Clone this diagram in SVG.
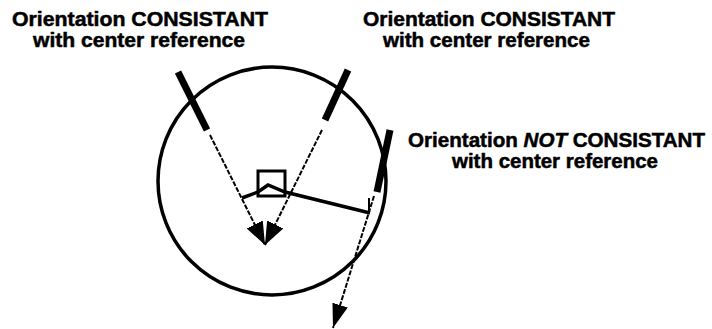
<svg xmlns="http://www.w3.org/2000/svg" width="712" height="329" viewBox="0 0 712 329">
<style>
  .lbl { font-family: "Liberation Sans", Arial, sans-serif; font-weight: bold; font-size: 20px; fill: #000; stroke: #000; stroke-width: 0.5; }
  .bar { stroke: #000; stroke-width: 7; fill: none; }
  .ray { stroke: #000; stroke-width: 2; fill: none; stroke-dasharray: 5 1.5; }
  .thick { stroke: #000; stroke-width: 3.5; fill: none; stroke-linejoin: miter; }
</style>
<defs>
  <marker id="ah" viewBox="0 0 23 18" refX="23" refY="9" markerWidth="23" markerHeight="18" markerUnits="userSpaceOnUse" orient="auto">
    <path d="M0,0 L23,9 L0,18 Z" fill="#000"/>
  </marker>
  <marker id="ah2" viewBox="0 0 24 16" refX="24" refY="8" markerWidth="24" markerHeight="16" markerUnits="userSpaceOnUse" orient="auto">
    <path d="M0,0 L24,8 L0,16 Z" fill="#000"/>
  </marker>
</defs>
<rect width="712" height="329" fill="#fff"/>

<g id="circle">
  <circle cx="272" cy="181" r="114" fill="none" stroke="#000" stroke-width="3.5"/>
</g>

<g id="center-square">
  <rect x="258" y="171" width="27" height="25" fill="none" stroke="#000" stroke-width="3"/>
</g>

<g id="bar-left">
  <line class="bar" x1="178" y1="72" x2="207" y2="130"/>
</g>
<g id="bar-middle">
  <line class="bar" x1="348" y1="70" x2="325" y2="120"/>
</g>
<g id="bar-right">
  <line class="bar" x1="390" y1="130" x2="377" y2="192"/>
</g>

<g id="connectors">
  <line class="ray" x1="210" y1="135" x2="265" y2="245" marker-end="url(#ah)"/>
  <line class="ray" x1="322" y1="130" x2="265" y2="245" marker-end="url(#ah)"/>
  <line class="ray" x1="374" y1="196" x2="333" y2="328" marker-end="url(#ah2)"/>
  <polyline class="thick" points="242,198 258,192 268,185 285,192 370,213"/>
  <line x1="369" y1="198" x2="369" y2="213" stroke="#000" stroke-width="2"/>
</g>

<g id="label-left">
  <text class="lbl" x="12" y="26" textLength="256" lengthAdjust="spacingAndGlyphs">Orientation CONSISTANT</text>
  <text class="lbl" x="33" y="47" textLength="212" lengthAdjust="spacingAndGlyphs">with center reference</text>
</g>
<g id="label-middle">
  <text class="lbl" x="363" y="26" textLength="252" lengthAdjust="spacingAndGlyphs">Orientation CONSISTANT</text>
  <text class="lbl" x="383" y="47" textLength="207" lengthAdjust="spacingAndGlyphs">with center reference</text>
</g>
<g id="label-right">
  <text class="lbl" x="408" y="147" textLength="297" lengthAdjust="spacingAndGlyphs">Orientation <tspan font-style="italic">NOT</tspan> CONSISTANT</text>
  <text class="lbl" x="452" y="168" textLength="206" lengthAdjust="spacingAndGlyphs">with center reference</text>
</g>
</svg>
